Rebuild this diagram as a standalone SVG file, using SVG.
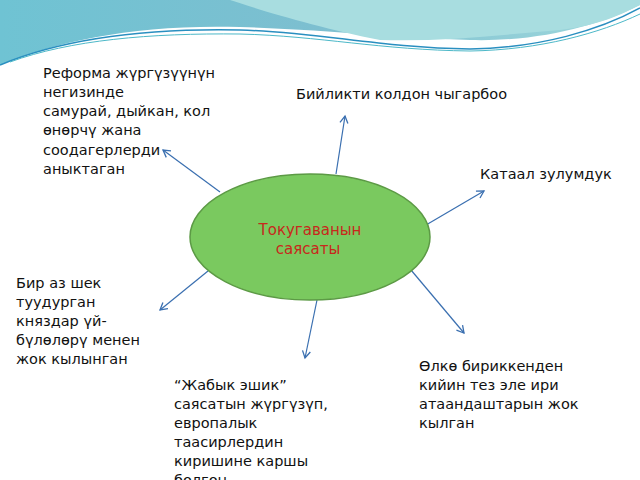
<svg xmlns="http://www.w3.org/2000/svg" width="640" height="480" viewBox="0 0 640 480">
<defs>
<linearGradient id="bg" x1="0" y1="0" x2="1" y2="0"><stop offset="0" stop-color="#6fc3d3"/><stop offset="0.5" stop-color="#7dbfd0"/><stop offset="1" stop-color="#9fd8dc"/></linearGradient>
<marker id="ah" markerWidth="10" markerHeight="10" refX="8" refY="5" orient="auto" markerUnits="userSpaceOnUse"><path d="M1,1 L8,5 L1,9" fill="none" stroke="#3a6fb0" stroke-width="1.3"/></marker>
<style>
.t{font-family:"DejaVu Sans",sans-serif;font-size:14.5px;fill:#111}
.m{font-size:15px;fill:#c8281c}
.c{stroke:#3a6fb0;stroke-width:1.2;fill:none;marker-end:url(#ah)}
</style>
</defs>
<rect width="640" height="480" fill="#fff"/>
<path d="M0,0 H640 V5 C600,25 540,42 470,40 C400,38 330,30 240,27 C140,24 60,40 0,65 Z" fill="url(#bg)"/>
<path d="M230,0 C260,10 320,28 380,40 C440,42 500,35 560,30 C600,25 620,15 640,5 V0 Z" fill="#a8dde0"/>
<path d="M0,65 C60,40 140,28 240,30 C320,32 380,48 470,49 C540,48 600,30 640,8" fill="none" stroke="#2a8fc0" stroke-width="1.5"/>
<path d="M10,62 C70,40 150,33 240,34 C320,36 380,50 470,51 C540,50 600,33 640,14" fill="none" stroke="#4cb8c8" stroke-width="1"/>
<g id="connectors">
<line class="c" x1="220" y1="192" x2="163" y2="150"/>
<line class="c" x1="336" y1="174" x2="345" y2="116"/>
<line class="c" x1="426" y1="225" x2="484" y2="191"/>
<line class="c" x1="208" y1="271" x2="160" y2="310"/>
<line class="c" x1="317" y1="300" x2="305" y2="358"/>
<line class="c" x1="411" y1="270" x2="464" y2="333"/>
</g>
<g id="center"><ellipse cx="310" cy="237" rx="120" ry="63" fill="#7ac95f" stroke="#5c9a45" stroke-width="1.5"/>
<text class="t m" x="310" y="235" text-anchor="middle">Токугаванын</text>
<text class="t m" x="308" y="254" text-anchor="middle">саясаты</text></g>
<g id="n1"><text class="t" x="43" y="78">Реформа жүргүзүүнүн</text><text class="t" x="43" y="97">негизинде</text><text class="t" x="43" y="116">самурай, дыйкан, кол</text><text class="t" x="43" y="135">өнөрчү жана</text><text class="t" x="43" y="155">соодагерлерди</text><text class="t" x="43" y="174">аныктаган</text></g>
<g id="n2"><text class="t" x="296" y="99">Бийликти колдон чыгарбоо</text></g>
<g id="n3"><text class="t" x="480" y="179">Катаал зулумдук</text></g>
<g id="n4"><text class="t" x="16" y="288">Бир аз шек</text><text class="t" x="16" y="307">туудурган</text><text class="t" x="16" y="326">княздар үй-</text><text class="t" x="16" y="345">бүлөлөрү менен</text><text class="t" x="16" y="364">жок кылынган</text></g>
<g id="n5"><text class="t" x="174" y="390">“Жабык эшик”</text><text class="t" x="174" y="409">саясатын жүргүзүп,</text><text class="t" x="174" y="428">европалык</text><text class="t" x="174" y="447">таасирлердин</text><text class="t" x="174" y="466">киришине каршы</text><text class="t" x="174" y="485">болгон</text></g>
<g id="n6"><text class="t" x="419" y="371">Өлкө бириккенден</text><text class="t" x="419" y="390">кийин тез эле ири</text><text class="t" x="419" y="409">атаандаштарын жок</text><text class="t" x="419" y="428">кылган</text></g>
</svg>
